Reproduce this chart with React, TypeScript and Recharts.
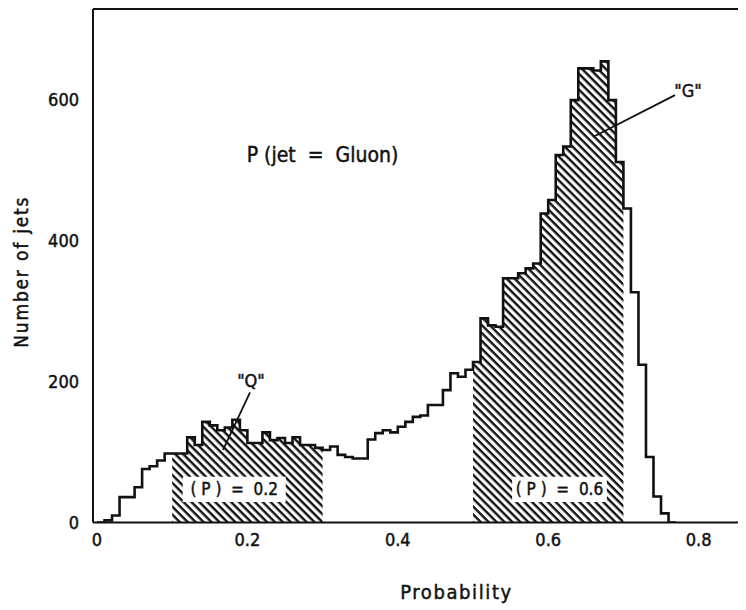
import React from 'react';
import {
  ComposedChart,
  Area,
  Line,
  XAxis,
  YAxis,
  ReferenceArea,
  ReferenceLine,
  ReferenceDot,
} from 'recharts';

// Histogram of the gluon probability, 0.01-wide bins starting at 0.
const BIN_WIDTH = 0.01;
const BIN_COUNTS = [
  0, 3, 10, 36, 36, 50, 76, 80, 88, 98,
  98, 98, 121, 110, 143, 138, 131, 135, 146, 131,
  113, 113, 128, 117, 120, 113, 121, 110, 110, 106,
  103, 108, 96, 93, 91, 91, 118, 127, 131, 128,
  136, 143, 150, 152, 167, 167, 188, 212, 207, 217,
  228, 290, 280, 278, 347, 347, 354, 361, 368, 439,
  458, 522, 534, 600, 645, 645, 642, 655, 600, 512,
  446, 327, 224, 93, 37, 13, 0,
];

// Shaded probability windows and the mean printed inside each.
const HATCH_RANGES: [number, number][] = [
  [0.1, 0.3],
  [0.5, 0.7],
];
const NB = '\u00A0';
const MEAN_LABELS = [`(${NB}P${NB})${NB}${NB}=${NB}${NB}0.2`, `(${NB}P${NB})${NB}${NB}=${NB}${NB}0.6`];
const TITLE = `P${NB}(jet${NB}${NB}=${NB}${NB}Gluon)`;

const X_LABEL_TICKS = [0, 0.2, 0.4, 0.6, 0.8];
const X_FRAME_TICKS = [0.1, 0.2, 0.3, 0.4, 0.5, 0.6, 0.7, 0.8];
const Y_LABEL_TICKS = [0, 200, 400, 600];
const Y_FRAME_TICKS = [100, 200, 300, 400, 500, 600];

const X_DOMAIN: [number, number] = [-0.0053, 0.863];
const Y_DOMAIN: [number, number] = [0, 729.4];

const INK = '#111';
const FONT = "'DejaVu Sans Condensed', 'Liberation Sans Narrow', 'DejaVu Sans', sans-serif";

type Row = { x: number; n: number; hatch0: number | null; hatch1: number | null };

const hatchBins = HATCH_RANGES.map(([a, b]) => [
  Math.round(a / BIN_WIDTH),
  Math.round(b / BIN_WIDTH),
]);

const rows: Row[] = [];
for (let i = 0; i <= BIN_COUNTS.length; i++) {
  const n = i < BIN_COUNTS.length ? BIN_COUNTS[i] : 0;
  const inRange = (k: number) => i >= hatchBins[k][0] && i <= hatchBins[k][1];
  rows.push({
    x: Math.round(i * BIN_WIDTH * 100) / 100,
    n,
    hatch0: inRange(0) ? n : null,
    hatch1: inRange(1) ? n : null,
  });
}

const fmtX = (v: number) => (v === 0 ? '0' : v.toFixed(1));

// Pen-plotter look: narrow glyphs with a light outline for weight.
const textStyle = {
  fill: INK,
  fontFamily: FONT,
  fontStretch: 'condensed',
  stroke: INK,
  strokeWidth: 0.45,
};

const ProbabilityTitle = (props: any) => {
  const vb = props.viewBox || { x: 85, y: 514.5, width: 653, height: 87.5 };
  const cx = vb.x + vb.width / 2 + 37;
  const y = vb.y + vb.height - 11;
  return (
    <text x={cx} y={y} textAnchor="middle" fontSize={20} letterSpacing={1.6} {...textStyle}>
      Probability
    </text>
  );
};

const CountTitle = (props: any) => {
  const vb = props.viewBox || { x: 0, y: 1, width: 85, height: 513.5 };
  const cx = vb.x + 13;
  const cy = vb.y + vb.height / 2 + 6;
  return (
    <text
      x={cx}
      y={cy}
      textAnchor="middle"
      dominantBaseline="central"
      transform={`rotate(-90 ${cx} ${cy})`}
      fontSize={19}
      letterSpacing={1.8}
      {...textStyle}
    >
      Number of jets
    </text>
  );
};

const tickStyle = { fontSize: 18, ...textStyle };

export default function App() {
  return (
    <div style={{ width: 738, height: 602, background: '#fff' }}>
      <ComposedChart
        width={738}
        height={602}
        data={rows}
        margin={{ top: 1, right: 0, bottom: 0, left: 0 }}
      >
        <defs>
          <pattern
            id="hatch"
            patternUnits="userSpaceOnUse"
            width={10}
            height={5.6}
            patternTransform="rotate(45)"
          >
            <rect x={0} y={0} width={10} height={2.4} fill={INK} />
          </pattern>
        </defs>

        <XAxis
          xAxisId="b"
          type="number"
          dataKey="x"
          domain={X_DOMAIN}
          allowDataOverflow
          ticks={X_LABEL_TICKS}
          tickFormatter={fmtX}
          height={87.5}
          tickLine={false}
          tickSize={4}
          tickMargin={7}
          axisLine={{ stroke: INK, strokeWidth: 2 }}
          tick={tickStyle}
          label={<ProbabilityTitle />}
        />
        <XAxis
          xAxisId="bIn"
          type="number"
          dataKey="x"
          domain={X_DOMAIN}
          allowDataOverflow
          orientation="bottom"
          mirror
          ticks={X_FRAME_TICKS}
          tick={false}
          tickSize={11}
          tickLine={{ stroke: INK, strokeWidth: 2 }}
          axisLine={false}
        />
        <XAxis
          xAxisId="t"
          type="number"
          dataKey="x"
          domain={X_DOMAIN}
          allowDataOverflow
          orientation="top"
          mirror
          ticks={X_FRAME_TICKS}
          tick={false}
          tickSize={9}
          tickLine={{ stroke: INK, strokeWidth: 2 }}
          axisLine={{ stroke: INK, strokeWidth: 2 }}
        />
        <YAxis
          yAxisId="l"
          type="number"
          domain={Y_DOMAIN}
          allowDataOverflow
          width={85}
          ticks={Y_LABEL_TICKS}
          tickLine={false}
          tickSize={4}
          tickMargin={10}
          axisLine={{ stroke: INK, strokeWidth: 2 }}
          tick={tickStyle}
          label={<CountTitle />}
        />
        <YAxis
          yAxisId="lIn"
          type="number"
          domain={Y_DOMAIN}
          allowDataOverflow
          mirror
          ticks={Y_FRAME_TICKS}
          tick={false}
          tickSize={10}
          tickLine={{ stroke: INK, strokeWidth: 2 }}
          axisLine={false}
        />

        <Area
          xAxisId="b"
          yAxisId="l"
          type="stepAfter"
          dataKey="hatch0"
          baseValue={0}
          fill="url(#hatch)"
          fillOpacity={1}
          stroke="none"
          connectNulls={false}
          isAnimationActive={false}
        />
        <Area
          xAxisId="b"
          yAxisId="l"
          type="stepAfter"
          dataKey="hatch1"
          baseValue={0}
          fill="url(#hatch)"
          fillOpacity={1}
          stroke="none"
          connectNulls={false}
          isAnimationActive={false}
        />

        <ReferenceArea
          xAxisId="b"
          yAxisId="l"
          x1={0.114}
          x2={0.251}
          y1={29}
          y2={65}
          fill="#fff"
          fillOpacity={1}
          stroke="none"
          label={{ value: MEAN_LABELS[0], position: 'center', fontSize: 17, ...textStyle }}
        />
        <ReferenceArea
          xAxisId="b"
          yAxisId="l"
          x1={0.552}
          x2={0.678}
          y1={29}
          y2={65}
          fill="#fff"
          fillOpacity={1}
          stroke="none"
          label={{ value: MEAN_LABELS[1], position: 'center', fontSize: 17, ...textStyle }}
        />

        <Line
          xAxisId="b"
          yAxisId="l"
          type="stepAfter"
          dataKey="n"
          stroke={INK}
          strokeWidth={2.6}
          dot={false}
          activeDot={false}
          isAnimationActive={false}
        />

        <ReferenceLine
          xAxisId="b"
          yAxisId="l"
          segment={[
            { x: 0.2035, y: 185 },
            { x: 0.1676, y: 103 },
          ]}
          stroke={INK}
          strokeWidth={1.8}
        />
        <ReferenceLine
          xAxisId="b"
          yAxisId="l"
          segment={[
            { x: 0.7686, y: 607 },
            { x: 0.6596, y: 547.6 },
          ]}
          stroke={INK}
          strokeWidth={1.8}
        />

        <ReferenceDot
          xAxisId="b"
          yAxisId="l"
          x={0.2999}
          y={522}
          r={0}
          fill="none"
          stroke="none"
          label={{ value: TITLE, position: 'center', fontSize: 21, ...textStyle }}
        />
        <ReferenceDot
          xAxisId="b"
          yAxisId="l"
          x={0.2048}
          y={202}
          r={0}
          fill="none"
          stroke="none"
          label={{ value: '"Q"', position: 'center', fontSize: 18, ...textStyle }}
        />
        <ReferenceDot
          xAxisId="b"
          yAxisId="l"
          x={0.786}
          y={614}
          r={0}
          fill="none"
          stroke="none"
          label={{ value: '"G"', position: 'center', fontSize: 18, ...textStyle }}
        />
      </ComposedChart>
    </div>
  );
}
